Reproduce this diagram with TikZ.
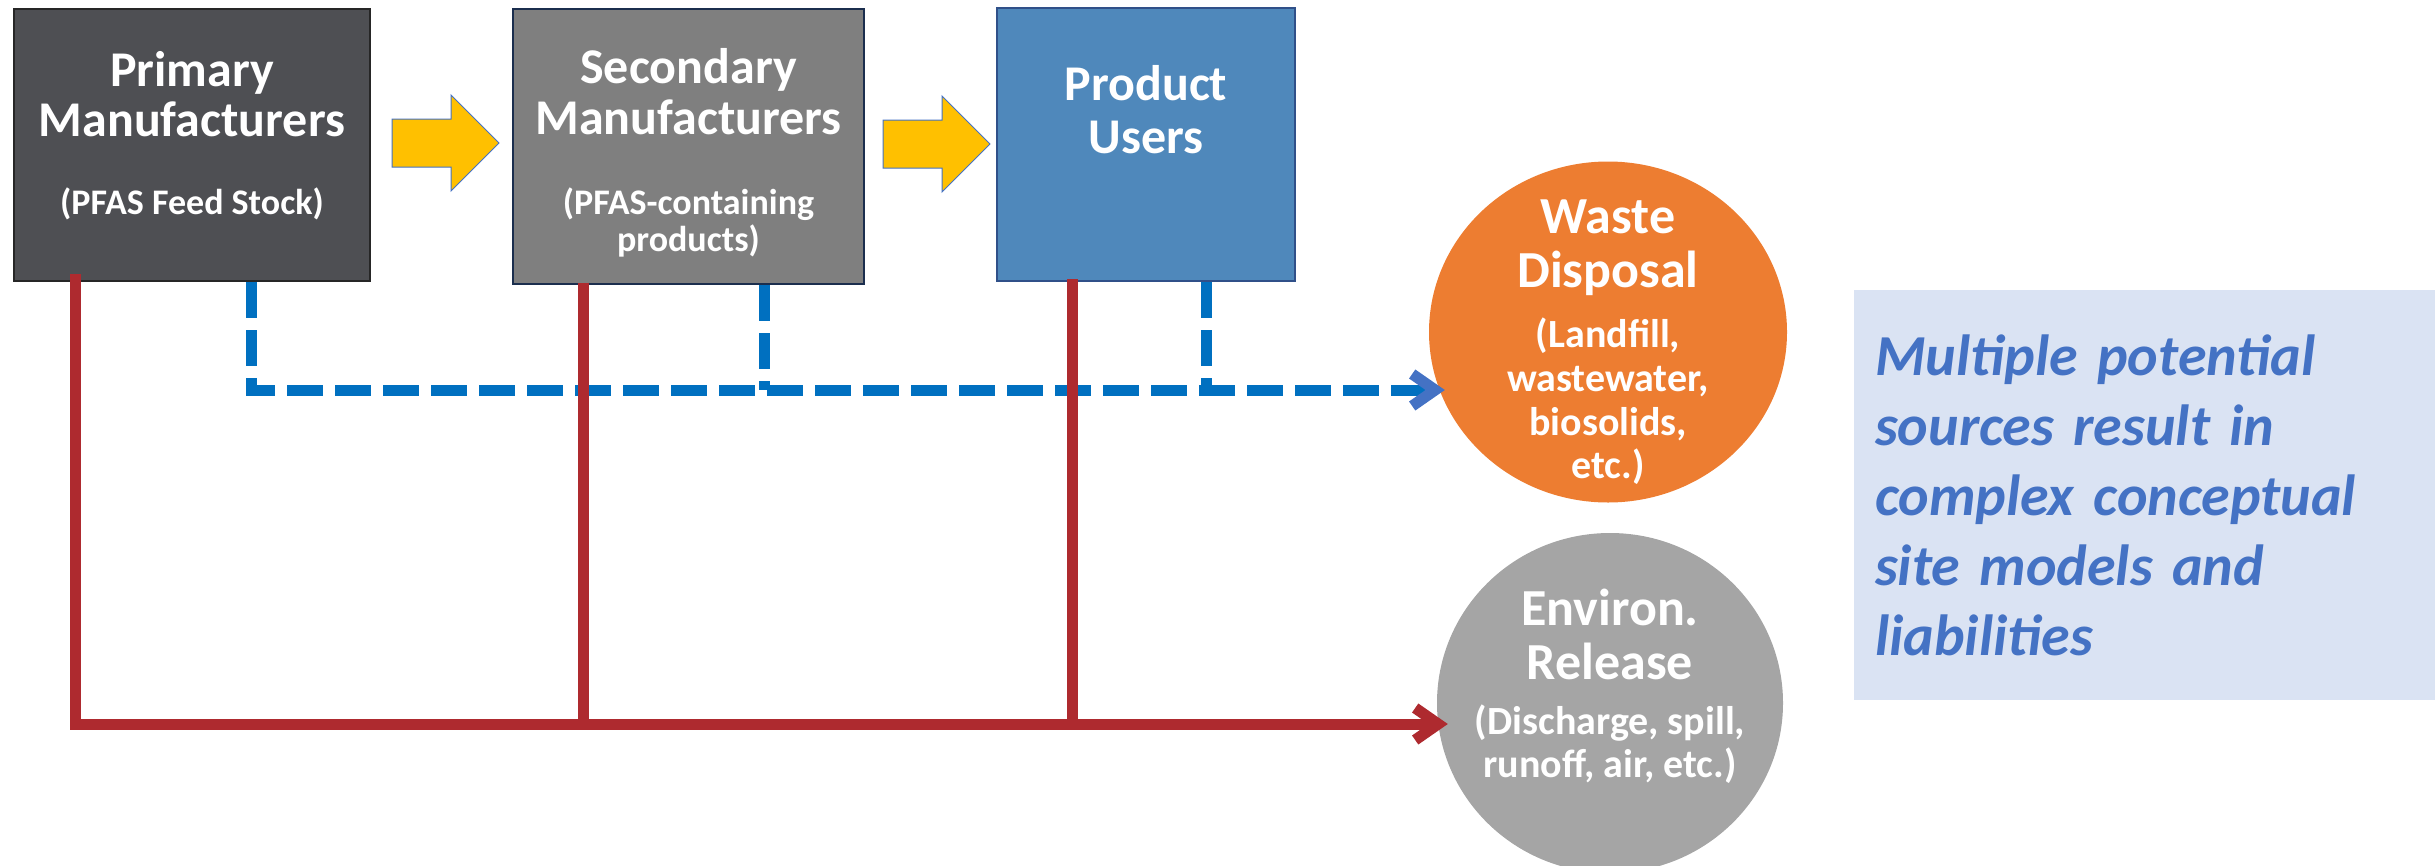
\documentclass[tikz,border=0pt]{standalone}
\usepackage{fontspec}
\setmainfont{Carlito}
\usetikzlibrary{arrows.meta}
\usetikzlibrary{shapes.geometric}
\definecolor[named]{PMGray}{HTML}{4E4F53}
\definecolor[named]{SMGray}{HTML}{7F7F7F}
\definecolor[named]{PUBlue}{HTML}{4F88BB}
\definecolor[named]{WDOrange}{HTML}{ED7D31}
\definecolor[named]{ERGray}{HTML}{A5A5A5}
\definecolor[named]{FlowYellow}{HTML}{FFC000}
\definecolor[named]{EdgeBlue}{HTML}{4472C4}
\definecolor[named]{WasteBlue}{HTML}{0070C0}
\definecolor[named]{ReleaseRed}{HTML}{AE2A2F}
\colorlet{pnlbg}{EdgeBlue!20!white}
\newcommand{\subfnt}{\fontsize{36}{37}\selectfont}
\newcommand{\elsfnt}{\fontsize{40}{43.5}\selectfont}
\tikzset{mfb/.style={
  draw,
  line width=2pt,
  shape=rectangle,
}}
\tikzset{ttl/.style={
  text=white,
  align=center,
  font=\bfseries\fontsize{50}{51}\selectfont,
  inner sep=0pt,
}}
\tikzset{elt/.style={
  ttl,
  font=\bfseries\fontsize{52}{54}\selectfont,
}}
\tikzset{sbj/.style={
  shape=ellipse,
  inner sep=0pt,
}}
\tikzset{rel/.style={
  ReleaseRed,
  line width=11pt,
}}
\tikzset{wst/.style={
  WasteBlue,
  line width=11pt,
  dash pattern=on 36pt off 12pt,
}}
\tikzset{flw/.style={
  fill=FlowYellow,
  draw=EdgeBlue,
  line width=1pt,
}}
\tikzset{pnl/.style={
  fill=pnlbg,
  text=EdgeBlue,
  minimum width=586pt,
  minimum height=410pt,
  text width=544pt,
  inner xsep=21pt,
  align=left,
  font=\bfseries\itshape\fontsize{58}{70}\selectfont,
}}
\tikzset{flow/.pic={
  \draw[flw] (0,-24) -- (59,-24) -- (59,-48) -- (107,0)
    -- (59,48) -- (59,24) -- (0,24) -- cycle;
}}
\tikzset{chev/.tip={Straight Barb[length=23pt 0 0,width=32pt 0 0]}}

\begin{document}
\begin{tikzpicture}[x=1pt,y=-1pt]

    \useasboundingbox (0,0) rectangle (2435,865);

    %% Supply chain

    \node[mfb,fill=PMGray,draw=black!85,minimum width=356pt,minimum height=272pt,
      label={[ttl,yshift=9pt]center:{Primary\\[-1pt]Manufacturers\\[27pt]\subfnt (PFAS Feed Stock)}}]
      (pm) at (192,145) {};
    \node[mfb,fill=SMGray,draw=black!60!EdgeBlue,minimum width=351pt,minimum height=275pt,
      label={[ttl,yshift=-6.5pt]center:{Secondary\\Manufacturers\\[29pt]\subfnt (PFAS-containing\\[-14pt]\subfnt products)}}]
      (sm) at (688.5,146.5) {};
    \node[mfb,fill=PUBlue,draw=black!30!EdgeBlue,minimum width=298pt,minimum height=273pt,
      label={[ttl,yshift=35pt]center:{Product\\[2pt]Users}}]
      (pu) at (1146,144.5) {};

    % Flow arrows
    \pic at ([xshift=21pt,yshift=2pt]pm.east) {flow};
    \pic at ([xshift=18pt,yshift=2.5pt]sm.east) {flow};

    %% Receptors

    \node[sbj,fill=WDOrange,minimum width=358pt,minimum height=341pt,
      label={[elt,yshift=-10.5pt]center:{Waste\\Disposal\\[6pt]\elsfnt (Landfill,\\[-10pt]\elsfnt wastewater,\\[-10pt]\elsfnt biosolids,\\[-11pt]\elsfnt etc.)}}]
      (wd) at (1608,332) {};
    \node[sbj,fill=ERGray,minimum width=346pt,minimum height=340pt,
      label={[elt,yshift=17pt]center:{Environ.\\Release\\[1pt]\elsfnt (Discharge, spill,\\[-11pt]\elsfnt runoff, air, etc.)}}]
      (er) at (1610,703) {};

    %% Pathways

    % Disposal (dashed)
    \coordinate (wl) at ([shift={(16,58)}]wd.west);
    \draw[wst,-{chev[color=EdgeBlue]}] ([xshift=238pt]pm.south west) |- (wl);
    \draw[wst] ([xshift=252pt]sm.south west) coordinate (w2) -- (w2 |- wl);
    \draw[wst] ([xshift=210pt]pu.south west) coordinate (w3) -- (w3 |- wl);

    % Release (solid)
    \coordinate (rl) at ([shift={(11,21)}]er.west);
    \draw[rel,-chev] ([xshift=62pt,yshift=8pt]pm.south west) |- (rl);
    \draw[rel] ([xshift=71pt,yshift=2.5pt]sm.south west) coordinate (r2) -- (r2 |- rl);
    \draw[rel] ([xshift=76pt,yshift=3pt]pu.south west) coordinate (r3) -- (r3 |- rl);

    %% Note

    \node[pnl] (note) at (2147,495)
      {Multiple potential\\sources result in\\complex conceptual\\site models and\\liabilities};

\end{tikzpicture}
\end{document}
